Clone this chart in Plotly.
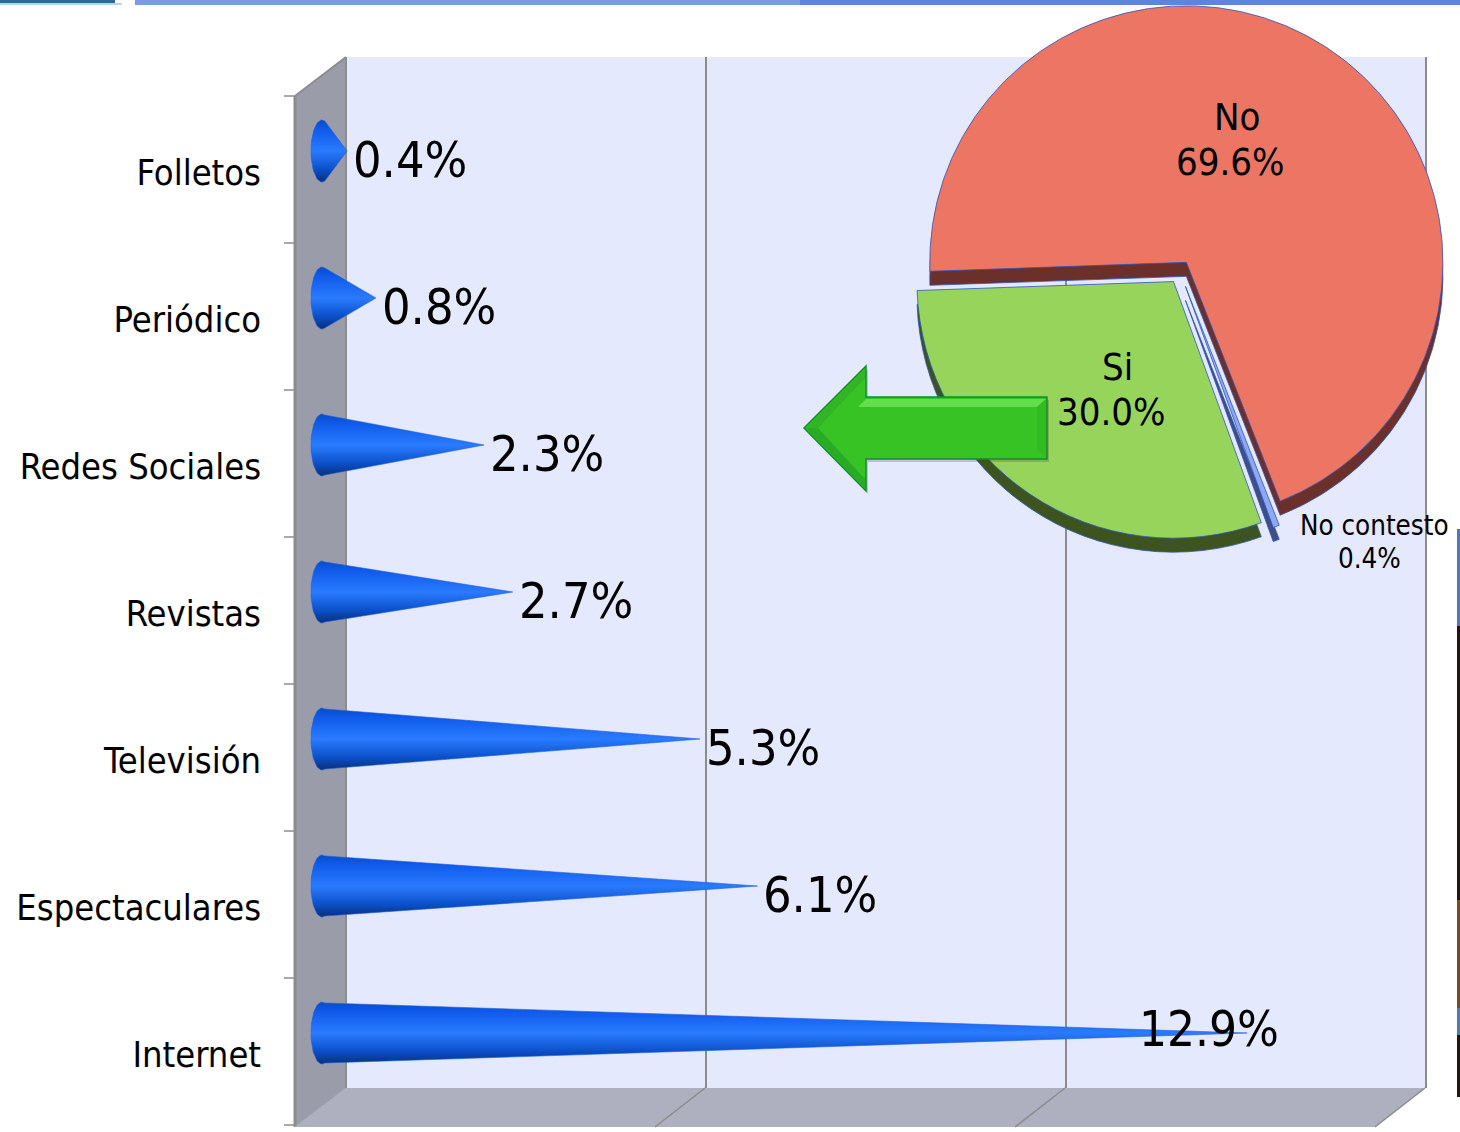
import numpy as np
import plotly.graph_objects as go

W, H = 1460, 1132

categories = ["Folletos", "Periódico", "Redes Sociales", "Revistas", "Televisión", "Espectaculares", "Internet"]
values = [0.4, 0.8, 2.3, 2.7, 5.3, 6.1, 12.9]
pie_labels = ["No", "No contesto", "Si"]
pie_values = [69.6, 0.4, 30.0]

FONT = "DejaVu Sans Condensed, DejaVu Sans, sans-serif"
PX_PER_UNIT = 72.0
X0_PX = 346.0
ROW = 147.0
FIRST_LABEL_Y = 172.0
WALL_TOP, WALL_BOT, WALL_RIGHT = 57, 1088, 1425
FRONT_BOT = 1127


def px(x):
    return x / W


def py(y):
    return 1 - y / H


def path(points, close=True):
    s = "M " + " L ".join(f"{px(x):.5f},{py(y):.5f}" for x, y in points)
    return s + (" Z" if close else "")


def poly(points, fill, line=None, width=0, layer="below"):
    return dict(type="path", xref="paper", yref="paper", path=path(points), fillcolor=fill,
                line=dict(color=line or "rgba(0,0,0,0)", width=width), layer=layer)


def seg(p, q, color="#8c8c8c", width=2, layer="below"):
    return dict(type="line", xref="paper", yref="paper", x0=px(p[0]), y0=py(p[1]), x1=px(q[0]), y1=py(q[1]),
                line=dict(color=color, width=width), layer=layer)


def rect(x0, y0, x1, y1, color, layer="below"):
    return dict(type="rect", xref="paper", yref="paper", x0=px(x0), y0=py(y0), x1=px(x1), y1=py(y1),
                fillcolor=color, line=dict(width=0), layer=layer)


fig = go.Figure()

# cones
DEPTH_X = -0.385
DEPTH_Y = -21 / ROW
BASE_X = -24 / PX_PER_UNIT
BASE_RX = 11 / PX_PER_UNIT
BASE_RY = 31 / ROW
theta = np.linspace(np.pi * 0.42, np.pi * 1.58, 40)
for i, (c, v) in enumerate(zip(categories, values)):
    yc = i + DEPTH_Y
    bx = BASE_X + BASE_RX * np.cos(theta)
    by = yc - BASE_RY * np.sin(theta)
    xs = list(bx) + [v + DEPTH_X, bx[0]]
    ys = list(by) + [yc, by[0]]
    fig.add_trace(go.Scatter(
        x=xs, y=ys, mode="lines", fill="toself", name=c, showlegend=False, hoverinfo="skip",
        line=dict(color="#1c5fdc", width=0.6),
        fillgradient=dict(type="vertical", colorscale=[[0, "#0a2f78"], [0.2, "#0b4fc8"], [0.5, "#2a7bff"], [0.85, "#0f5aea"], [1, "#0a4cc8"]]),
    ))

# pie: rim first, then top face
PIE_CX, PIE_CY, PIE_H = 1180, 272, 544
RIM = 14
PULL = [0.045, 0.06, 0.045]
ROTATION = 268


def pie(cy, colors, line_w):
    return go.Pie(
        labels=pie_labels, values=pie_values, sort=False, direction="clockwise", rotation=ROTATION, pull=PULL,
        textinfo="none", hoverinfo="label+percent", showlegend=False,
        marker=dict(colors=colors, line=dict(color="#2f55c0", width=line_w)),
        domain=dict(x=[px(PIE_CX - PIE_H / 2), px(PIE_CX + PIE_H / 2)],
                    y=[py(cy + PIE_H / 2), py(cy - PIE_H / 2)]),
    )


fig.add_trace(pie(PIE_CY + RIM, ["#6a3029", "#3f4f85", "#3d5420"], 0.8))
fig.add_trace(pie(PIE_CY, ["#ec7563", "#8fa8f5", "#97d45c"], 0.8))

annotations = []
# value labels at the cone tips
LABEL_DY = -12 / ROW
for i, v in enumerate(values):
    last = i == len(values) - 1
    annotations.append(dict(
        x=v + DEPTH_X, y=i + (-25 / ROW if last else LABEL_DY), xref="x", yref="y",
        text=f"{v:.1f}%", showarrow=False, xanchor="left", xshift=-110 if last else 4,
        font=dict(family=FONT, size=50 if not last else 49, color="#000000"),
    ))

# pie labels
for txt, x, y, size in [("No", 1237, 117, 38), (f"{pie_values[0]:.1f}%", 1230, 162, 38),
                        ("Si", 1117, 367, 38), (f"{pie_values[2]:.1f}%", 1111, 412, 38),
                        ("No contesto", 1374, 525, 27.5), (f"{pie_values[1]:.1f}%", 1369, 558, 27.5)]:
    annotations.append(dict(
        x=px(x), y=py(y), xref="paper", yref="paper", showarrow=False, xanchor="center", yanchor="middle",
        text=txt, font=dict(family=FONT, size=size, color="#000000"),
    ))

shapes = [
    # top strip
    rect(135, 0, 1460, 5, "#7c9ade"),
    rect(800, 0, 1460, 5, "#5f84dc"),
    rect(0, 0, 115, 3, "#2f6a95"),
    rect(0, 3, 122, 5, "#b7d3ee"),
    # right-hand remnants
    rect(1457, 529, 1460, 626, "#4a7ab8"),
    rect(1457, 626, 1460, 900, "#211512"),
    rect(1457, 900, 1460, 1008, "#7a4a20"),
    rect(1457, 1008, 1460, 1035, "#4a7ab8"),
    rect(1457, 1035, 1460, 1097, "#211512"),
    # walls
    poly([(X0_PX, WALL_TOP), (WALL_RIGHT, WALL_TOP), (WALL_RIGHT, WALL_BOT), (X0_PX, WALL_BOT)], "#e5e9fe"),
    poly([(295, 96), (X0_PX, WALL_TOP), (X0_PX, WALL_BOT), (295, FRONT_BOT)], "#9a9caa"),
    poly([(295, FRONT_BOT), (X0_PX, WALL_BOT), (WALL_RIGHT, WALL_BOT), (1375, FRONT_BOT)], "#aeb0c0"),
    seg((295, 96), (295, FRONT_BOT), width=3),
    seg((295, 96), (X0_PX, WALL_TOP)),
    seg((X0_PX, WALL_TOP), (X0_PX, WALL_BOT), color="#b5b7c4"),
    seg((295, FRONT_BOT), (X0_PX, WALL_BOT), color="#a8a9b6", width=1),
]
for k in range(8):
    yy = 96 + k * (FRONT_BOT - 2 - 96) / 7
    shapes.append(seg((284, yy), (295, yy), width=1.5))
for k in range(3):
    bx = 705 + 360 * k
    shapes.append(seg((bx - 50, FRONT_BOT), (bx, WALL_BOT), width=1.5))

# arrow, drawn above the pie
arrow = [(804, 428), (866, 366), (866, 397), (1047, 397), (1047, 459), (866, 459), (866, 491)]
shapes += [
    poly([(x + 2, y + 3) for x, y in arrow], "rgba(60,70,60,0.25)", layer="above"),
    poly(arrow, "#38c324", line="#0f8f2a", width=1.5, layer="above"),
    poly([(866, 399), (1046, 399), (1037, 407), (858, 407)], "#62e04c", layer="above"),
    poly([(806, 428), (865, 369), (865, 378), (818, 428)], "#31b524", layer="above"),
    poly([(806, 428), (865, 489), (865, 479), (818, 428)], "#2aab25", layer="above"),
    poly([(1046, 399), (1046, 458), (1037, 450), (1037, 407)], "#33bb24", layer="above"),
]

fig.update_layout(
    width=W, height=H, autosize=False,
    margin=dict(l=0, r=0, t=0, b=0), paper_bgcolor="#ffffff", plot_bgcolor="rgba(0,0,0,0)",
    showlegend=False, shapes=shapes, annotations=annotations,
    xaxis=dict(domain=[0, 1], range=[-X0_PX / PX_PER_UNIT, (W - X0_PX) / PX_PER_UNIT], dtick=5, tick0=0,
               showgrid=True, gridcolor="#8c8c8c", gridwidth=2, zeroline=False, showticklabels=False,
               ticks="", showline=False, fixedrange=True),
    yaxis=dict(domain=[py(WALL_BOT), py(WALL_TOP)], type="linear",
               range=[(WALL_BOT - FIRST_LABEL_Y) / ROW, (WALL_TOP - FIRST_LABEL_Y) / ROW],
               tickmode="array", tickvals=list(range(len(categories))), ticktext=categories,
               anchor="free", position=px(261), ticks="", showgrid=False, zeroline=False, showline=False,
               tickfont=dict(family=FONT, size=36, color="#000000"), fixedrange=True),
)

fig.write_html("out.html", config=dict(displayModeBar=False),
               post_script="document.body.style.margin='0';document.body.style.overflow='hidden';")
